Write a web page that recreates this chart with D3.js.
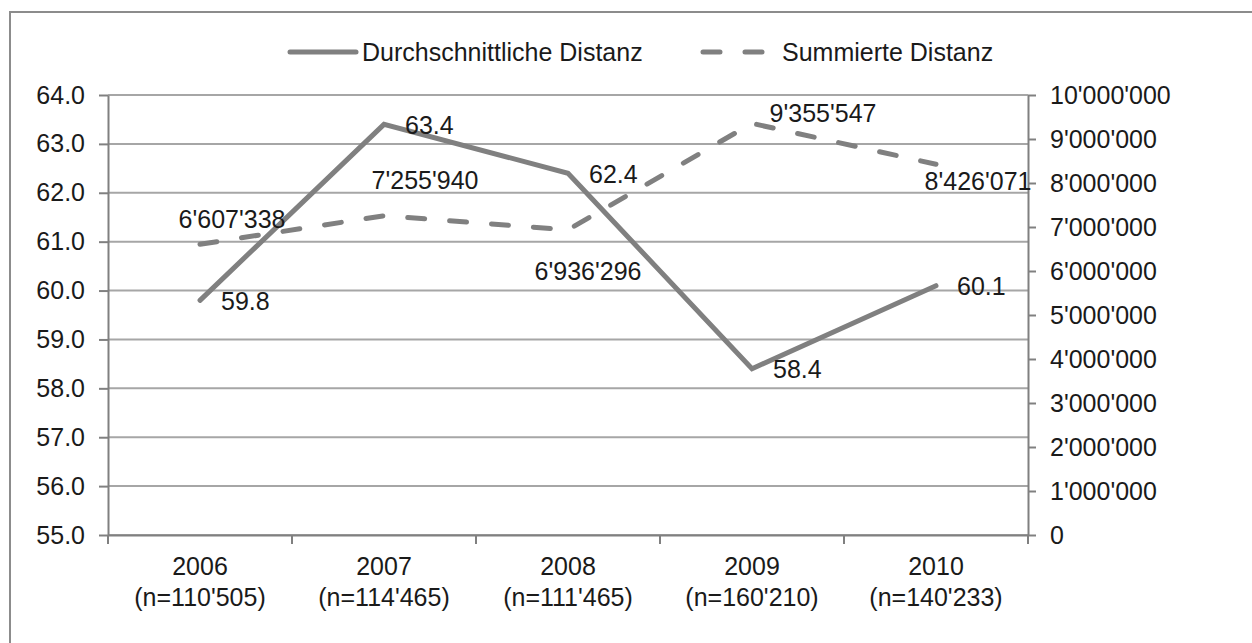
<!DOCTYPE html>
<html lang="de">
<head>
    <meta charset="UTF-8">
    <title>Distanz</title>
    <script src="https://d3js.org/d3.v7.min.js"></script>
    <style>
        body { margin: 0; background: #fff; }
        text { font-family: "Liberation Sans", Arial, sans-serif; fill: #1a1a1a; }
    </style>
</head>
<body>
<script type="text/javascript">
    var years = ["2006", "2007", "2008", "2009", "2010"];
    var sampleSizes = ["n=110'505", "n=114'465", "n=111'465", "n=160'210", "n=140'233"];
    var avgDistance = [59.8, 63.4, 62.4, 58.4, 60.1];
    var sumDistance = [6607338, 7255940, 6936296, 9355547, 8426071];
    var leftTicks = [55, 56, 57, 58, 59, 60, 61, 62, 63, 64];
    var rightTicks = [0, 1e6, 2e6, 3e6, 4e6, 5e6, 6e6, 7e6, 8e6, 9e6, 10e6];

    // label offsets for the summed series (moved by hand in the original)
    var sumLabelShift = [[32, -26], [41, -36], [20, 41], [71, -11], [42, 16]];

    var svgWidth = 1252, svgHeight = 643;
    var plotLeft = 108, plotRight = 1028, plotTop = 95, plotBottom = 535;
    var grey = "#808080";
    var fontSize = 25;

    var apos = d3.formatLocale({decimal: ".", thousands: "'", grouping: [3], currency: ["", ""]});
    var fmtBig = apos.format(",");
    var fmtOne = d3.format(".1f");

    var svg = d3.select("body").append("svg")
        .attr("width", svgWidth)
        .attr("height", svgHeight);

    // outer frame (runs off the right and bottom edges)
    svg.append("rect")
        .attr("x", 10).attr("y", 12)
        .attr("width", 1300).attr("height", 700)
        .style("fill", "none").style("stroke", "#8c8c8c").style("stroke-width", 2);

    var xScale = d3.scaleBand().domain(years).range([plotLeft, plotRight]);
    var yLeft = d3.scaleLinear().domain([55, 64]).range([plotBottom, plotTop]);
    var yRight = d3.scaleLinear().domain([0, 10e6]).range([plotBottom, plotTop]);

    // gridlines
    svg.append("g").selectAll("line")
        .data(leftTicks)
        .enter()
        .append("line")
        .attr("x1", plotLeft).attr("x2", plotRight)
        .attr("y1", function (d) { return yLeft(d); })
        .attr("y2", function (d) { return yLeft(d); })
        .style("stroke", "#a6a6a6").style("stroke-width", 2);

    var styleAxis = function (g) {
        g.select(".domain").style("stroke", grey).style("stroke-width", 2);
        g.selectAll(".tick line").style("stroke", grey).style("stroke-width", 2);
        g.selectAll("text").style("font-size", fontSize + "px").style("fill", "#1a1a1a")
            .style("font-family", "Liberation Sans, Arial, sans-serif");
    };

    var yAxisLeft = d3.axisLeft(yLeft).tickValues(leftTicks).tickFormat(fmtOne)
        .tickSize(9).tickSizeOuter(0).tickPadding(14);
    svg.append("g")
        .attr("transform", "translate(" + plotLeft + ",0)")
        .call(yAxisLeft)
        .call(styleAxis);

    var yAxisRight = d3.axisRight(yRight).tickValues(rightTicks).tickFormat(fmtBig)
        .tickSize(8).tickSizeOuter(0).tickPadding(14);
    svg.append("g")
        .attr("transform", "translate(" + plotRight + ",0)")
        .call(yAxisRight)
        .call(styleAxis);

    // bottom axis: line plus ticks on category boundaries
    var xAxis = d3.axisBottom(xScale).tickSize(0).tickPadding(22);
    var gx = svg.append("g")
        .attr("transform", "translate(0," + plotBottom + ")")
        .call(xAxis)
        .call(styleAxis);
    gx.selectAll(".tick text").each(function (d, i) {
        var t = d3.select(this);
        t.text(null);
        t.append("tspan").attr("x", 0).text(d);
        t.append("tspan").attr("x", 0).attr("dy", "1.25em").text("(" + sampleSizes[i] + ")");
    });
    gx.selectAll(".boundary")
        .data(d3.range(years.length + 1))
        .enter()
        .append("line")
        .attr("x1", function (i) { return plotLeft + i * xScale.step(); })
        .attr("x2", function (i) { return plotLeft + i * xScale.step(); })
        .attr("y1", 0).attr("y2", 9)
        .style("stroke", grey).style("stroke-width", 2);

    var cx = function (i) { return xScale(years[i]) + xScale.bandwidth() / 2; };

    var lineAvg = d3.line()
        .x(function (d, i) { return cx(i); })
        .y(function (d) { return yLeft(d); });
    var lineSum = d3.line()
        .x(function (d, i) { return cx(i); })
        .y(function (d) { return yRight(d); });

    svg.append("path")
        .datum(sumDistance)
        .attr("d", lineSum)
        .style("fill", "none").style("stroke", grey).style("stroke-width", 5)
        .style("stroke-dasharray", "17,25").style("stroke-linecap", "round");

    svg.append("path")
        .datum(avgDistance)
        .attr("d", lineAvg)
        .style("fill", "none").style("stroke", grey).style("stroke-width", 5)
        .style("stroke-linecap", "round");

    // data labels
    svg.append("g").selectAll("text")
        .data(avgDistance)
        .enter()
        .append("text")
        .text(function (d) { return fmtOne(d); })
        .attr("x", function (d, i) { return cx(i) + 21; })
        .attr("y", function (d) { return yLeft(d); })
        .attr("dy", "0.38em")
        .style("font-size", fontSize + "px");

    svg.append("g").selectAll("text")
        .data(sumDistance)
        .enter()
        .append("text")
        .text(function (d) { return fmtBig(d); })
        .attr("x", function (d, i) { return cx(i) + sumLabelShift[i][0]; })
        .attr("y", function (d, i) { return yRight(d) + sumLabelShift[i][1]; })
        .attr("dy", "0.38em")
        .attr("text-anchor", "middle")
        .style("font-size", fontSize + "px");

    // legend
    var legend = svg.append("g");
    legend.append("line")
        .attr("x1", 290).attr("x2", 356).attr("y1", 52).attr("y2", 52)
        .style("stroke", grey).style("stroke-width", 5).style("stroke-linecap", "round");
    legend.append("text")
        .attr("x", 362).attr("y", 52).attr("dy", "0.36em")
        .style("font-size", fontSize + "px")
        .text("Durchschnittliche Distanz");
    legend.append("line")
        .attr("x1", 703).attr("x2", 770).attr("y1", 52).attr("y2", 52)
        .style("stroke", grey).style("stroke-width", 5).style("stroke-linecap", "round")
        .style("stroke-dasharray", "17,25");
    legend.append("text")
        .attr("x", 782).attr("y", 52).attr("dy", "0.36em")
        .style("font-size", fontSize + "px")
        .text("Summierte Distanz");
</script>
</body>
</html>
